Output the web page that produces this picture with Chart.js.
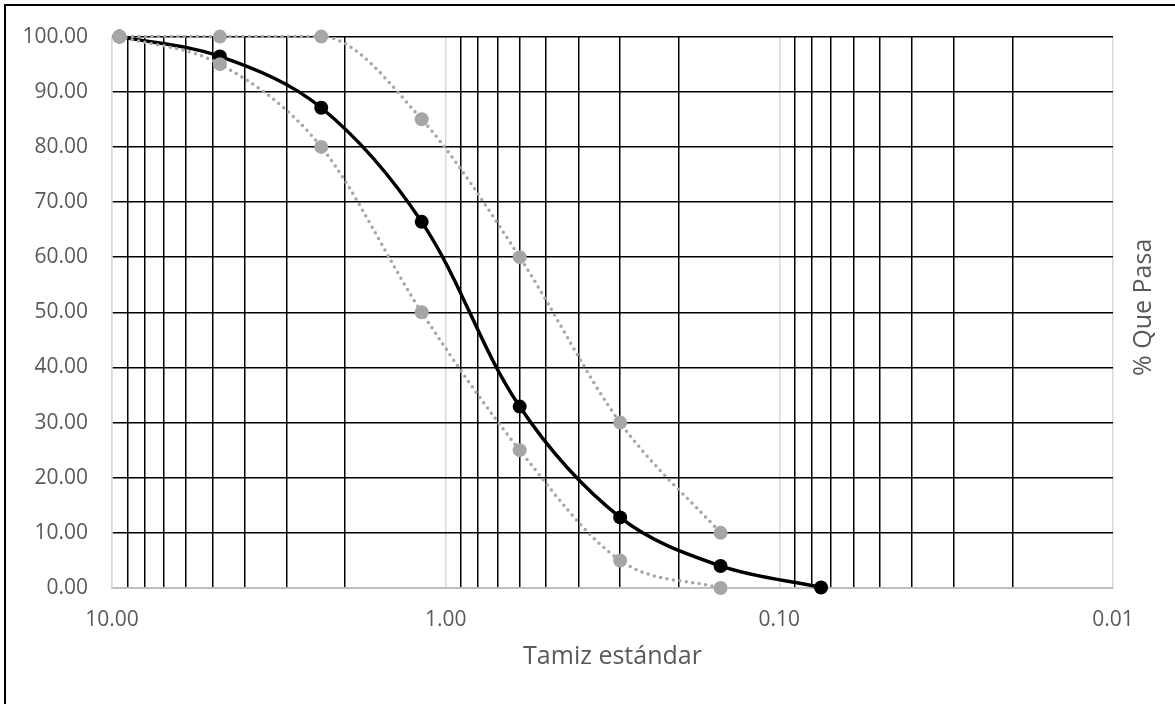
<!DOCTYPE html>
<html>
<head>
<meta charset="utf-8">
<script src="https://cdn.jsdelivr.net/npm/chart.js@4.4.0/dist/chart.umd.min.js"></script>
<style>
    html, body { margin: 0; padding: 0; background: #fff; overflow: hidden; }
    #frame { position: absolute; left: 4px; top: 4px; width: 2000px; height: 2000px; border: 2px solid #000; }
    #wrap { position: absolute; left: 0; top: 0; width: 1175px; height: 704px; }
</style>
</head>
<body>
<div id="frame"></div>
<div id="wrap"><canvas id="granChart"></canvas></div>
<script>
    /* ================= DATA ================= */
    const sieveSizes = [9.5, 4.75, 2.36, 1.18, 0.6, 0.3, 0.15, 0.075];
    const passing = [100, 96.4, 87.1, 66.4, 32.9, 12.8, 4.0, 0.1];

    const limitSizes = [9.5, 4.75, 2.36, 1.18, 0.6, 0.3, 0.15];
    const upperLimit = [100, 100, 100, 85, 60, 30, 10];
    const lowerLimit = [100, 95, 80, 50, 25, 5, 0];

    const decades = [0.01, 0.1, 1, 10];
    const xTitle = 'Tamiz estándar';
    const yTitle = '% Que Pasa';

    const textColor = '#595959';
    const fontFamily = '"Open Sans", "Liberation Sans", sans-serif';

    const toPoints = (xs, ys) => xs.map((x, i) => ({ x: x, y: ys[i] }));
    const isMajor = v => Math.abs(Math.log10(v) - Math.round(Math.log10(v))) < 1e-6;

    /* ================= RIGHT TITLE ================= */
    const rightTitle = {
        id: 'rightTitle',
        afterDraw(chart) {
            const { ctx, chartArea } = chart;
            ctx.save();
            ctx.translate(1144, (chartArea.top + chartArea.bottom) / 2 - 5);
            ctx.rotate(-Math.PI / 2);
            ctx.font = '25px ' + fontFamily;
            ctx.fillStyle = textColor;
            ctx.textAlign = 'center';
            ctx.textBaseline = 'middle';
            ctx.fillText(yTitle, 0, 0);
            ctx.restore();
        }
    };

    const limitStyle = {
        borderColor: '#a6a6a6',
        backgroundColor: '#a6a6a6',
        borderWidth: 3.5,
        borderDash: [0, 6.5],
        borderCapStyle: 'round',
        cubicInterpolationMode: 'monotone',
        pointRadius: 7,
        pointBorderWidth: 0,
        pointBackgroundColor: '#a6a6a6',
        clip: false
    };

    /* ================= CHART ================= */
    new Chart(document.getElementById('granChart'), {
        type: 'line',
        data: {
            datasets: [
                Object.assign({ label: 'Límite superior', data: toPoints(limitSizes, upperLimit) }, limitStyle),
                Object.assign({ label: 'Límite inferior', data: toPoints(limitSizes, lowerLimit) }, limitStyle),
                {
                    label: 'Muestra',
                    data: toPoints(sieveSizes, passing),
                    borderColor: '#000',
                    backgroundColor: '#000',
                    borderWidth: 3.5,
                    tension: 0.35,
                    pointRadius: 7,
                    pointBorderWidth: 0,
                    pointBackgroundColor: '#000',
                    clip: false
                }
            ]
        },
        options: {
            responsive: true,
            maintainAspectRatio: false,
            animation: false,
            elements: { line: { capBezierPoints: false } },
            layout: { padding: { top: 34, right: 62, left: 0, bottom: 0 } },
            plugins: {
                legend: { display: false },
                tooltip: { enabled: false }
            },
            scales: {
                x: {
                    type: 'logarithmic',
                    reverse: true,
                    min: 0.01,
                    max: 10,
                    afterBuildTicks: scale => {
                        const ticks = [];
                        decades.slice(0, -1).forEach(d => {
                            for (let m = 1; m <= 9; m++) ticks.push({ value: +(m * d).toPrecision(3) });
                        });
                        ticks.push({ value: decades[decades.length - 1] });
                        scale.ticks = ticks;
                    },
                    afterFit: scale => { scale.height = 116; },
                    ticks: {
                        autoSkip: false,
                        maxRotation: 0,
                        padding: 19,
                        color: textColor,
                        font: { family: fontFamily, size: 21 },
                        callback: v => isMajor(v) ? v.toFixed(2) : ''
                    },
                    grid: {
                        drawTicks: false,
                        lineWidth: 1.5,
                        color: c => (c.tick && isMajor(c.tick.value)) ? '#d9d9d9' : '#000'
                    },
                    border: { color: '#bfbfbf', width: 2 },
                    title: {
                        display: true,
                        text: xTitle,
                        color: textColor,
                        font: { family: fontFamily, size: 25 },
                        padding: { top: 0, bottom: 32 }
                    }
                },
                y: {
                    min: 0,
                    max: 100,
                    afterFit: scale => { scale.width = 112; },
                    ticks: {
                        stepSize: 10,
                        padding: 24,
                        color: textColor,
                        font: { family: fontFamily, size: 21 },
                        callback: v => v.toFixed(2)
                    },
                    grid: {
                        drawTicks: false,
                        lineWidth: 1.5,
                        color: c => (c.tick && c.tick.value === 0) ? 'rgba(0,0,0,0)' : '#000'
                    },
                    border: { color: '#d9d9d9', width: 1.5 }
                }
            }
        },
        plugins: [rightTitle]
    });
</script>
</body>
</html>
